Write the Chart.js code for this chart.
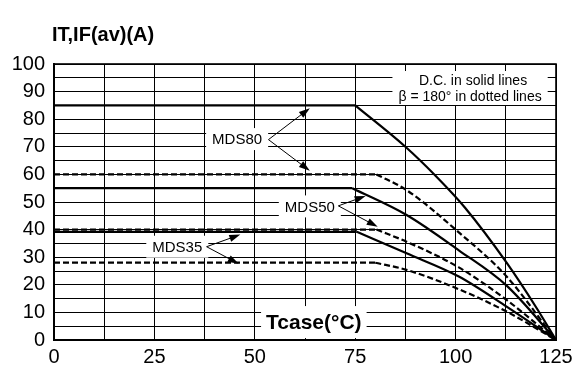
<!DOCTYPE html>
<html>
<head>
<meta charset="utf-8">
<script src="https://cdn.jsdelivr.net/npm/chart.js@4.4.0/dist/chart.umd.min.js"></script>
<style>
  html, body { margin: 0; padding: 0; background: #fff; }
  #wrap { width: 578px; height: 372px; }
</style>
</head>
<body>
<div id="wrap"><canvas id="derating" width="578" height="372"></canvas></div>
<script>
// case temperature (°C) and allowed average current (A) per curve
const tcase80dc = [0, 75, 87.5, 95, 102.3, 112.7, 120.2, 125];
const amps80dc  = [85, 85, 70, 59.5, 48, 28, 11.5, 0];
const tcase80ac = [0, 80.3, 87.8, 100.8, 112.7, 125];
const amps80ac  = [60, 60, 54.3, 39, 23, 0];
const tcase50dc = [0, 74.3, 87.8, 100.8, 112.7, 125];
const amps50dc  = [55, 55, 45.3, 32.5, 19.7, 0];
const tcase50ac = [0, 80.3, 87.8, 100.8, 112.7, 125];
const amps50ac  = [40, 40, 35.6, 26.3, 14.5, 0];
const tcase35dc = [0, 75.4, 87.8, 100.8, 112.7, 125];
const amps35dc  = [39.2, 39.2, 31.4, 23, 12.1, 0];
const tcase35ac = [0, 80, 87.8, 100.8, 112.7, 125];
const amps35ac  = [28, 28, 25.4, 18.4, 10.3, 0];

const FONT = "'Liberation Sans', Arial, Helvetica, sans-serif";

function pts(xs, ys) {
    return xs.map((x, i) => ({ x: x, y: ys[i] }));
}

// flat part straight, derating part as a smooth monotone curve
function curve(xs, ys, dashed) {
    const all = pts(xs, ys);
    const base = {
        borderColor: '#000',
        borderWidth: 2.2,
        borderDash: dashed ? [6, 3] : [],
        pointRadius: 0,
        fill: false
    };
    return [
        Object.assign({}, base, { data: all.slice(0, 2), tension: 0 }),
        Object.assign({}, base, { data: all.slice(1), cubicInterpolationMode: 'monotone' })
    ];
}

// callouts: label position, arrow start and arrow tips (data units)
const callouts = [
    { text: 'MDS80', x: 45.6, y: 72.8, from: [53.4, 72.6], to: [[63.7, 84], [63.7, 61.3]] },
    { text: 'MDS50', x: 63.7, y: 48.4, from: [70.8, 48.6], to: [[77.6, 52.2], [80.6, 41]] },
    { text: 'MDS35', x: 30.7, y: 33.8, from: [38, 33.8], to: [[46.4, 38.2], [46, 27.6]] }
];

function drawArrow(ctx, x0, y0, x1, y1) {
    const ang = Math.atan2(y1 - y0, x1 - x0);
    const len = 11, half = 3.6;
    ctx.beginPath();
    ctx.moveTo(x0, y0);
    ctx.lineTo(x1 - Math.cos(ang) * len * 0.8, y1 - Math.sin(ang) * len * 0.8);
    ctx.stroke();
    ctx.beginPath();
    ctx.moveTo(x1, y1);
    ctx.lineTo(x1 - Math.cos(ang) * len - Math.sin(ang) * half, y1 - Math.sin(ang) * len + Math.cos(ang) * half);
    ctx.lineTo(x1 - Math.cos(ang) * len + Math.sin(ang) * half, y1 - Math.sin(ang) * len - Math.cos(ang) * half);
    ctx.closePath();
    ctx.fill();
}

const labelsPlugin = {
    id: 'labels',
    beforeDatasetsDraw(chart) {
        const ctx = chart.ctx;
        const xs = chart.scales.x, ys = chart.scales.y;
        ctx.save();
        ctx.textAlign = 'center';
        ctx.textBaseline = 'middle';

        // white boxes behind callout names
        ctx.font = '15px ' + FONT;
        callouts.forEach(c => {
            const px = xs.getPixelForValue(c.x), py = ys.getPixelForValue(c.y);
            const w = ctx.measureText(c.text).width + 12;
            ctx.fillStyle = '#fff';
            ctx.fillRect(px - w / 2, py - 11, w, 22);
            ctx.fillStyle = '#000';
            ctx.fillText(c.text, px, py + 1);
        });

        // axis name inside the plot
        ctx.font = 'bold 21px ' + FONT;
        const tx = xs.getPixelForValue(64.7), ty = ys.getPixelForValue(6.5);
        const tw = ctx.measureText('Tcase(°C)').width + 10;
        ctx.fillStyle = '#fff';
        ctx.fillRect(tx - tw / 2, ty - 16, tw, 32);
        ctx.fillStyle = '#000';
        ctx.fillText('Tcase(°C)', tx, ty + 1);

        // line style key
        ctx.font = '14px ' + FONT;
        const lines = ['D.C. in solid lines', 'β = 180° in dotted lines'];
        const kx = xs.getPixelForValue(103.6), ky = ys.getPixelForValue(91.3);
        const kw = Math.max(...lines.map(s => ctx.measureText(s).width)) + 12;
        ctx.fillStyle = '#fff';
        ctx.fillRect(kx - kw / 2, ky - 17, kw, 34);
        ctx.fillStyle = '#000';
        ctx.fillText(lines[0], kx + 3, ky - 7);
        ctx.fillText(lines[1], kx, ky + 9);
        ctx.restore();
    },
    afterDatasetsDraw(chart) {
        const ctx = chart.ctx;
        const xs = chart.scales.x, ys = chart.scales.y;
        const a = chart.chartArea;
        ctx.save();
        ctx.strokeStyle = '#000';
        ctx.fillStyle = '#000';
        ctx.lineWidth = 1;
        callouts.forEach(c => {
            const x0 = xs.getPixelForValue(c.from[0]), y0 = ys.getPixelForValue(c.from[1]);
            c.to.forEach(t => {
                drawArrow(ctx, x0, y0, xs.getPixelForValue(t[0]), ys.getPixelForValue(t[1]));
            });
        });
        // plot frame
        ctx.lineWidth = 1.6;
        ctx.strokeRect(a.left, a.top, a.right - a.left, a.bottom - a.top);

        // unit title above the y axis
        ctx.font = 'bold 20px ' + FONT;
        ctx.textAlign = 'left';
        ctx.textBaseline = 'middle';
        ctx.fillText('IT,IF(av)(A)', 52, 35);
        ctx.restore();
    }
};

new Chart(document.getElementById('derating'), {
    type: 'line',
    data: {
        datasets: [].concat(
            curve(tcase80dc, amps80dc, false),
            curve(tcase80ac, amps80ac, true),
            curve(tcase50dc, amps50dc, false),
            curve(tcase50ac, amps50ac, true),
            curve(tcase35dc, amps35dc, false),
            curve(tcase35ac, amps35ac, true)
        )
    },
    options: {
        responsive: false,
        animation: false,
        layout: { padding: { top: 64, right: 22, left: 0, bottom: 0 } },
        plugins: {
            legend: { display: false },
            tooltip: { enabled: false },
            title: { display: false }
        },
        scales: {
            x: {
                type: 'linear',
                min: 0,
                max: 125,
                afterFit: s => { s.height = 32; },
                grid: { color: '#000', lineWidth: 1, drawTicks: false },
                border: { color: '#000', width: 2 },
                ticks: {
                    stepSize: 12.5,
                    padding: 5,
                    color: '#000',
                    maxRotation: 0,
                    autoSkip: false,
                    font: { family: FONT, size: 20 },
                    callback: v => (v % 25 === 0 ? v : '')
                }
            },
            y: {
                min: 0,
                max: 100,
                afterFit: s => { s.width = 54; },
                grid: { color: '#000', lineWidth: 1, drawTicks: false },
                border: { color: '#000', width: 2 },
                ticks: {
                    stepSize: 5,
                    padding: 9,
                    color: '#000',
                    autoSkip: false,
                    font: { family: FONT, size: 20 },
                    callback: v => (v % 10 === 0 ? v : '')
                }
            }
        }
    },
    plugins: [labelsPlugin]
});
</script>
</body>
</html>
